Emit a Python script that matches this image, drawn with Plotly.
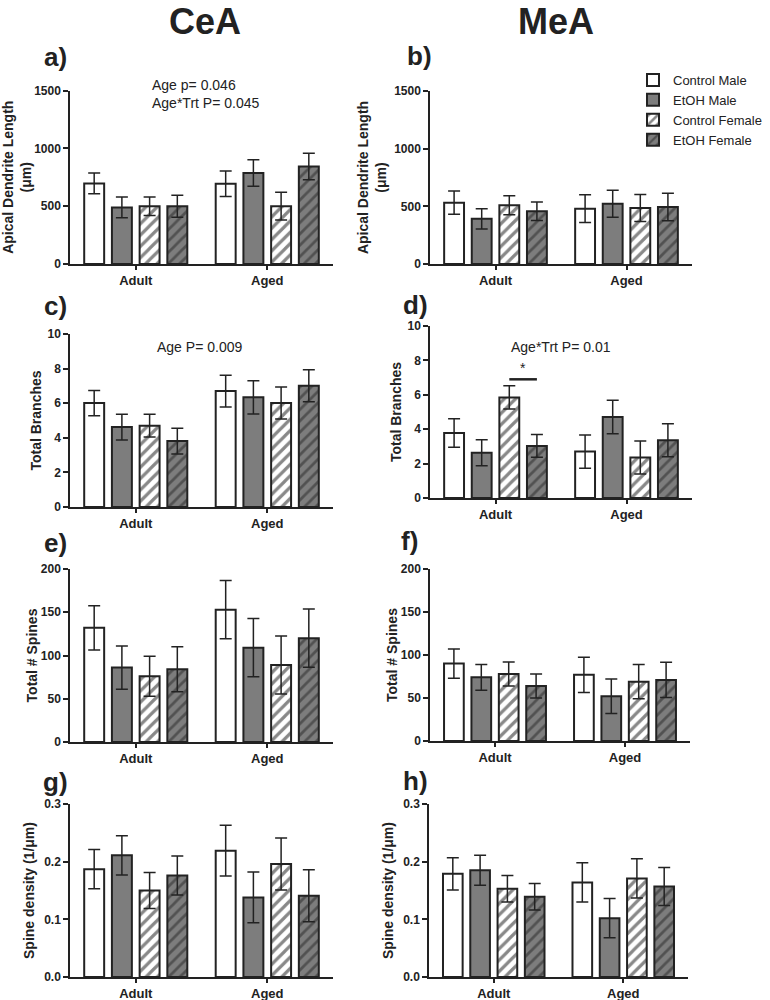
import plotly.graph_objects as go

# ---------------- data ----------------
groups = ["Adult", "Aged"]
series = ["Control Male", "EtOH Male", "Control Female", "EtOH Female"]

# each list: [series][group]
cea_length = [[697, 693], [489, 787], [499, 500], [500, 843]]
cea_length_err = [[90, 110], [90, 115], [80, 120], [95, 115]]
mea_length = [[532, 480], [392, 523], [509, 485], [457, 494]]
mea_length_err = [[100, 120], [88, 117], [82, 117], [80, 120]]

cea_branches = [[6.01, 6.70], [4.62, 6.34], [4.70, 6.01], [3.81, 7.01]]
cea_branches_err = [[0.73, 0.92], [0.74, 0.96], [0.66, 0.93], [0.74, 0.93]]
mea_branches = [[3.78, 2.70], [2.63, 4.71], [5.85, 2.36], [3.03, 3.36]]
mea_branches_err = [[0.83, 0.97], [0.75, 0.97], [0.68, 0.96], [0.66, 0.96]]

cea_spines = [[132, 153], [86, 109], [76, 89], [84, 120]]
cea_spines_err = [[25.5, 33.6], [25, 33.7], [23, 33.6], [26, 33.7]]
mea_spines = [[90, 77], [74, 52], [78, 69], [64, 71]]
mea_spines_err = [[17, 20.5], [15, 20], [14, 20], [14, 20.5]]

cea_density = [[0.187, 0.219], [0.211, 0.138], [0.150, 0.196], [0.176, 0.141]]
cea_density_err = [[0.034, 0.044], [0.034, 0.044], [0.031, 0.045], [0.034, 0.045]]
mea_density = [[0.179, 0.164], [0.185, 0.102], [0.153, 0.171], [0.139, 0.157]]
mea_density_err = [[0.028, 0.034], [0.026, 0.034], [0.023, 0.034], [0.023, 0.033]]

stats_a = "Age p= 0.046<br>Age*Trt P= 0.045"
stats_c = "Age P= 0.009"
stats_d = "Age*Trt P= 0.01"
sig_d_value = 6.9  # significance bar height (Total Branches units)

# ---------------- style ----------------
W, H = 770, 1000
FONT = "Liberation Sans, Arial, sans-serif"
INK = "#222222"
GRAY = "#7d7d7d"
BARGAP = 0.157
BARGROUPGAP = 0.28

styles = [
    dict(color="white", pattern=None),
    dict(color=GRAY, pattern=None),
    dict(color="white", pattern=dict(shape="/", fgcolor="#111111", bgcolor="white", size=8, solidity=0.4)),
    dict(color=GRAY, pattern=dict(shape="/", fgcolor="#262626", bgcolor=GRAY, size=8, solidity=0.35)),
]

def px_x(p):
    return p / W

def px_y(p):
    return 1 - p / H

# panel: (means, errs, xleft, xright, y0px, ytop_px, ymax, dtick, ytitle, tickformat, standoff)
panels = [
    (cea_length, cea_length_err, 70, 333, 264, 90.5, 1500, 500,
     "<b>Apical Dendrite Length</b><br><b>(μm)</b>", None, 4),
    (mea_length, mea_length_err, 430, 692, 264, 91, 1500, 500,
     "<b>Apical Dendrite Length</b><br><b>(μm)</b>", None, 4),
    (cea_branches, cea_branches_err, 70, 333, 507, 334, 10, 2, "<b>Total Branches</b>", None, 3),
    (mea_branches, mea_branches_err, 430, 692, 498, 326, 10, 2, "<b>Total Branches</b>", None, 3),
    (cea_spines, cea_spines_err, 70, 333, 742, 569, 200, 50, "<b>Total # Spines</b>", None, 0),
    (mea_spines, mea_spines_err, 430, 690, 741, 569, 200, 50, "<b>Total # Spines</b>", None, 0),
    (cea_density, cea_density_err, 70, 333, 977, 804, 0.3, 0.1, "<b>Spine density (1/μm)</b>", ".1f", 6),
    (mea_density, mea_density_err, 429, 688, 977, 804, 0.3, 0.1, "<b>Spine density (1/μm)</b>", ".1f", 6),
]

fig = go.Figure()
layout = {}
for i, (means, errs, xl, xr, y0, yt, ymax, dt, ytitle, tf, so) in enumerate(panels):
    n = i + 1
    xa = "x" if n == 1 else f"x{n}"
    ya = "y" if n == 1 else f"y{n}"
    for s, name in enumerate(series):
        st = styles[s]
        marker = dict(color=st["color"], line=dict(color=INK, width=2))
        if st["pattern"]:
            marker["pattern"] = st["pattern"]
        fig.add_trace(go.Bar(
            x=groups, y=means[s], name=name,
            error_y=dict(type="data", array=errs[s], visible=True,
                         color=INK, thickness=1.5, width=6),
            marker=marker, offsetgroup=str(s), legendgroup=name,
            showlegend=(n == 2), xaxis=xa, yaxis=ya,
        ))
    xkey = "xaxis" if n == 1 else f"xaxis{n}"
    ykey = "yaxis" if n == 1 else f"yaxis{n}"
    layout[xkey] = dict(
        domain=[px_x(xl), px_x(xr)], anchor=ya, type="category",
        categoryorder="array", categoryarray=groups, automargin=False,
        showline=True, linecolor=INK, linewidth=1.5, ticks="outside",
        ticklen=4, tickwidth=1.5, tickcolor=INK, showgrid=False,
        tickfont=dict(family=FONT, size=13, color=INK, weight="bold"),
        range=[-0.5, 1.5],
    )
    ya_dict = dict(
        domain=[px_y(y0), px_y(yt)], anchor=xa, range=[0, ymax], automargin=False,
        dtick=dt, tick0=0, showline=True, linecolor=INK, linewidth=1.5,
        ticks="outside", ticklen=5, tickwidth=1.5, tickcolor=INK,
        showgrid=False, zeroline=False,
        tickfont=dict(family=FONT, size=12, color=INK, weight="bold"),
        title=dict(text=ytitle, font=dict(family=FONT, size=14, color=INK), standoff=so),
    )
    if tf:
        ya_dict["tickformat"] = tf
    layout[ykey] = ya_dict

annotations = []
# column titles
for txt, cx in [("CeA", 205), ("MeA", 556)]:
    annotations.append(dict(text=f"<b>{txt}</b>", x=px_x(cx), y=px_y(21), xref="paper", yref="paper",
                            showarrow=False, font=dict(family=FONT, size=36, color=INK),
                            xanchor="center", yanchor="middle"))
# panel letters
letters = [("a)", 55, 57), ("b)", 419, 56), ("c)", 55, 306), ("d)", 415, 305),
           ("e)", 55, 543), ("f)", 410, 541), ("g)", 55, 782), ("h)", 415, 781)]
for txt, cx, cy in letters:
    annotations.append(dict(text=f"<b>{txt}</b>", x=px_x(cx), y=px_y(cy), xref="paper", yref="paper",
                            showarrow=False, font=dict(family=FONT, size=26, color=INK),
                            xanchor="center", yanchor="middle"))
# stats text
annotations.append(dict(text=stats_a, x=px_x(150), y=px_y(94), xref="paper", yref="paper",
                        showarrow=False, align="left", xanchor="left", yanchor="middle",
                        font=dict(family=FONT, size=14, color=INK)))
annotations.append(dict(text=stats_c, x=px_x(200), y=px_y(347), xref="paper", yref="paper",
                        showarrow=False, xanchor="center", yanchor="middle",
                        font=dict(family=FONT, size=14, color=INK)))
annotations.append(dict(text=stats_d, x=px_x(561), y=px_y(347), xref="paper", yref="paper",
                        showarrow=False, xanchor="center", yanchor="middle",
                        font=dict(family=FONT, size=14, color=INK)))

# significance bar in panel d between Control Female and EtOH Female (Adult)
group_w = 1 - BARGAP
slot = group_w / len(series)
def bar_center(cat_idx, s_idx):
    return cat_idx - group_w / 2 + (s_idx + 0.5) * slot
x_cf = bar_center(0, 2)
x_ef = bar_center(0, 3)
shapes = [dict(type="line", xref="x4", yref="y4", x0=x_cf, x1=x_ef,
               y0=sig_d_value, y1=sig_d_value, line=dict(color=INK, width=2.5))]
annotations.append(dict(text="*", x=(x_cf + x_ef) / 2, y=sig_d_value + 0.1, xref="x4", yref="y4",
                        showarrow=False, xanchor="center", yanchor="bottom",
                        font=dict(family=FONT, size=14, color=INK)))

fig.update_layout(
    width=W, height=H, margin=dict(l=0, r=0, t=0, b=0, autoexpand=False),
    paper_bgcolor="white", plot_bgcolor="white",
    barmode="group", bargap=BARGAP, bargroupgap=BARGROUPGAP,
    font=dict(family=FONT, color=INK),
    showlegend=True,
    legend=dict(x=px_x(633), y=px_y(65), xanchor="left", yanchor="top",
                font=dict(family=FONT, size=13, color=INK), bgcolor="rgba(0,0,0,0)",
                tracegroupgap=0),
    annotations=annotations, shapes=shapes,
    **layout,
)

fig.write_html(
    "out.html",
    config={"displayModeBar": False},
    post_script="document.body.style.margin='0';document.body.style.overflow='hidden';",
)
